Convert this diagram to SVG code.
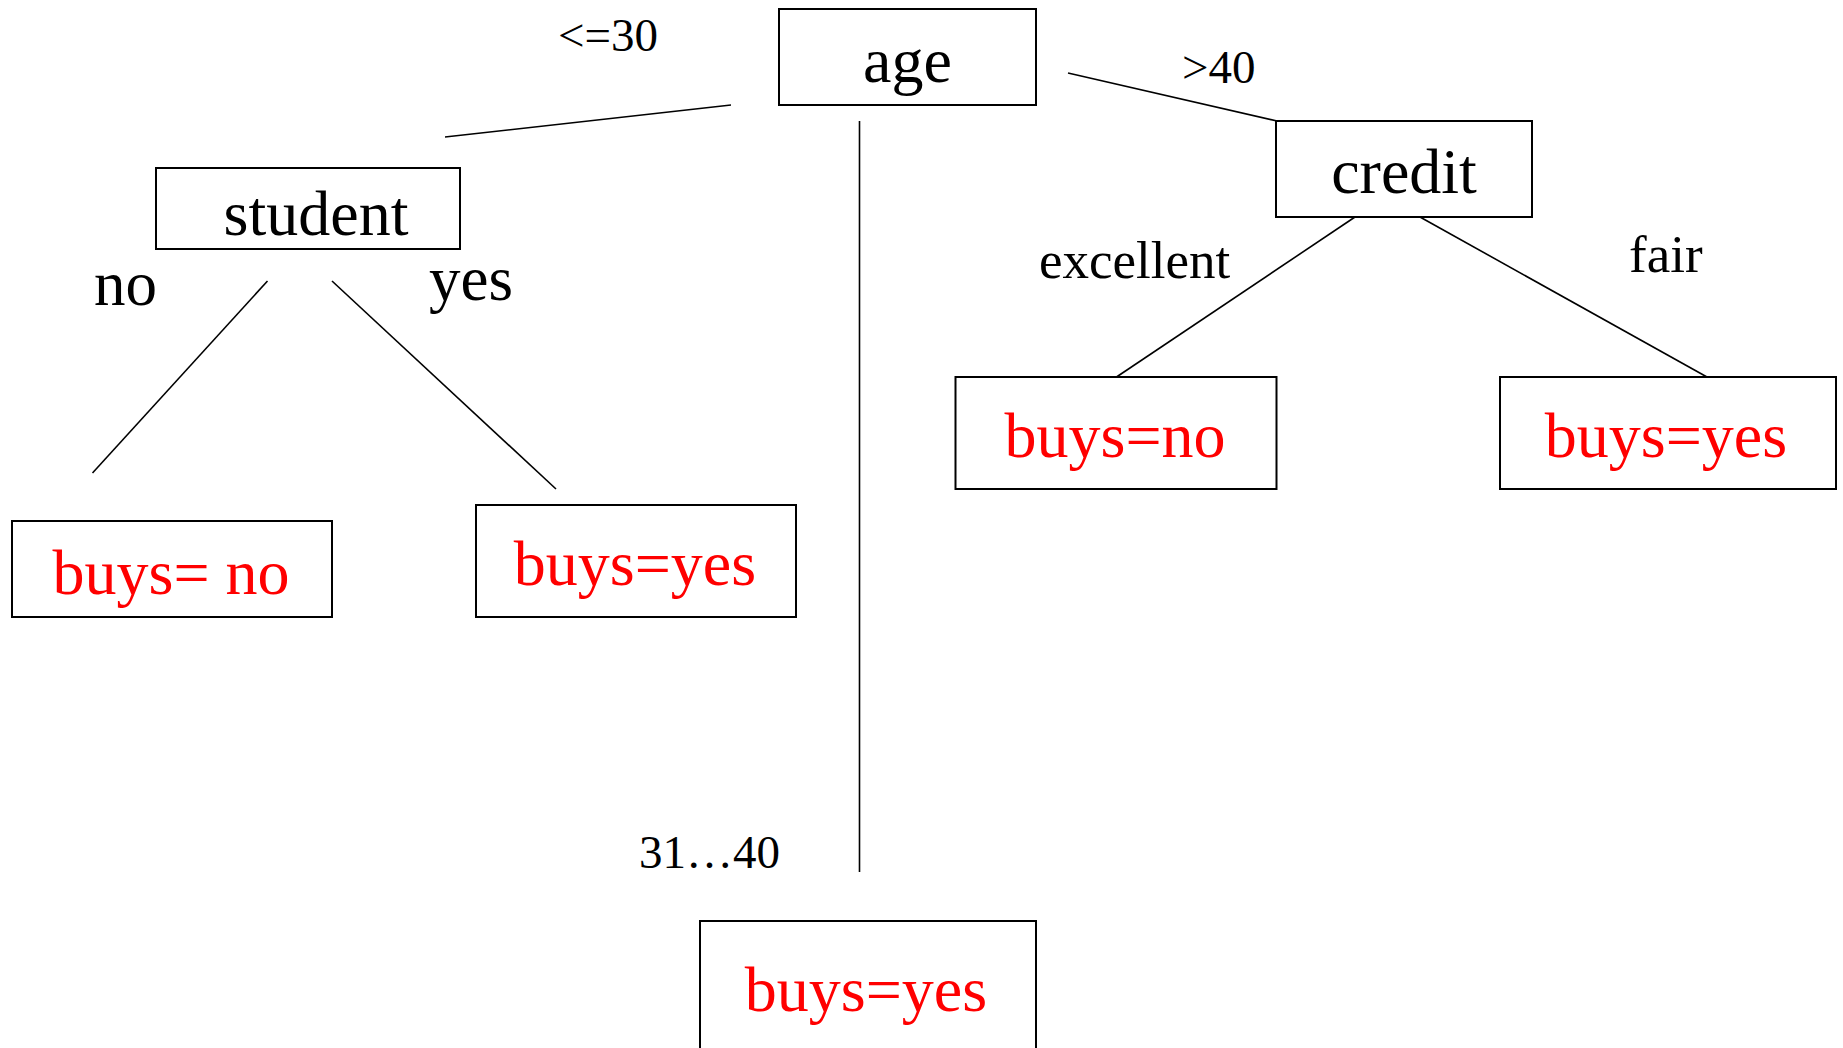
<svg xmlns="http://www.w3.org/2000/svg" width="1843" height="1048" viewBox="0 0 1843 1048">
<style>
rect{fill:#fff;stroke:#000;stroke-width:2}
line{stroke:#000;stroke-width:1.6}
text{font-family:"Liberation Serif","Times New Roman",serif;fill:#000}
.n{font-size:64px}
.r{font-size:64px;fill:#ff0000}
.l{font-size:63px}
.m{font-size:53px}
.s{font-size:47px}
</style>
<rect width="1843" height="1048" style="fill:#fff;stroke:none"/>
<g id="connectors">
<line x1="731" y1="105" x2="445" y2="137"/>
<line x1="859.5" y1="121" x2="859.5" y2="872"/>
<line x1="1068" y1="73" x2="1277" y2="121"/>
<line x1="267.5" y1="281" x2="92.5" y2="473"/>
<line x1="332" y1="281" x2="556" y2="489"/>
<line x1="1355" y1="217" x2="1116.5" y2="377"/>
<line x1="1420" y1="217" x2="1707" y2="377"/>
<text class="s" x="558" y="51">&lt;=30</text>
<text class="s" x="1182" y="83">&gt;40</text>
<text class="s" x="639" y="868">31…40</text>
<text class="l" x="94" y="305">no</text>
<text class="l" x="429" y="300">yes</text>
<text class="m" x="1039" y="278">excellent</text>
<text class="m" x="1629" y="272">fair</text>
</g>
<g id="age"><rect x="779" y="9" width="257" height="96"/><text class="n" x="907.5" y="82" text-anchor="middle">age</text></g>
<g id="student"><rect x="156" y="168" width="304" height="81"/><text class="n" x="316" y="235" text-anchor="middle">student</text></g>
<g id="credit"><rect x="1276" y="121" width="256" height="96"/><text class="n" x="1404" y="193" text-anchor="middle">credit</text></g>
<g id="leaf-student-no"><rect x="12" y="521" width="320" height="96"/><text class="r" x="171" y="594" text-anchor="middle">buys= no</text></g>
<g id="leaf-student-yes"><rect x="476" y="505" width="320" height="112"/><text class="r" x="635" y="585" text-anchor="middle">buys=yes</text></g>
<g id="leaf-credit-excellent"><rect x="955.5" y="377" width="321" height="112"/><text class="r" x="1115" y="457" text-anchor="middle">buys=no</text></g>
<g id="leaf-credit-fair"><rect x="1500" y="377" width="336" height="112"/><text class="r" x="1666" y="457" text-anchor="middle">buys=yes</text></g>
<g id="leaf-middle"><rect x="700" y="921" width="336" height="140"/><text class="r" x="866" y="1011" text-anchor="middle">buys=yes</text></g>
</svg>
